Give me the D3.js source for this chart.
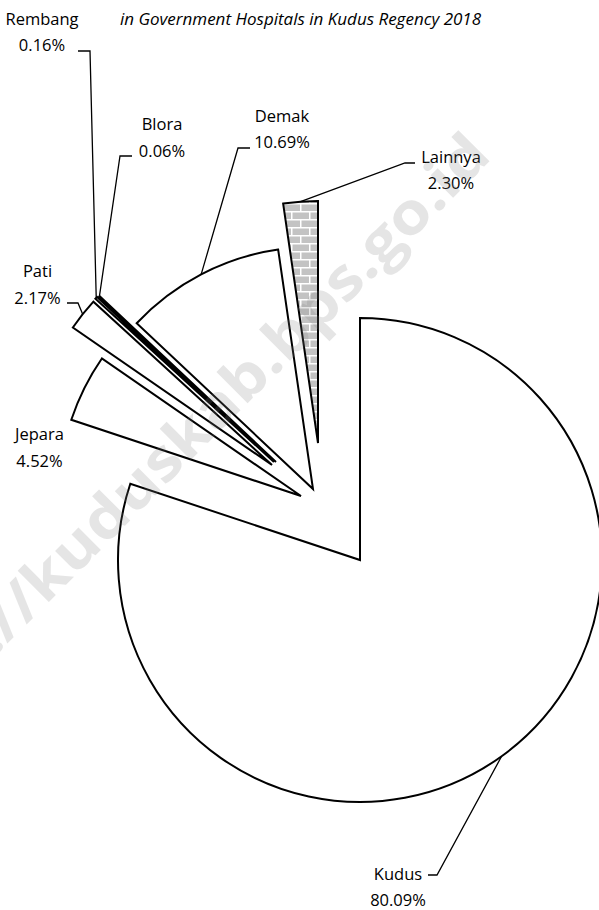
<!DOCTYPE html>
<html>
<head>
<meta charset="utf-8">
<script src="https://cdn.jsdelivr.net/npm/d3@7"></script>
<style>
  body { margin: 0; background: #fff; }
  text { font-family: "Open Sans", sans-serif; fill: #000; }
</style>
</head>
<body>
<div id="chart"></div>
<script>
// ---- data ----
const regions = ['Kudus', 'Jepara', 'Pati', 'Rembang', 'Blora', 'Demak', 'Lainnya'];
const shares = [80.09, 4.52, 2.17, 0.16, 0.06, 10.69, 2.30];
const titleText = 'in Government Hospitals in Kudus Regency 2018';
const watermarkText = 'https://kuduskab.bps.go.id';

// ---- layout ----
var width = 599, height = 910,
    radius = 242,
    cx = 360, cy = 560;

// where each slice's point was dragged to, relative to the pie centre
var explode = {
    Kudus: [0, 0], Jepara: [-59, -64], Pati: [-88, -95],
    Rembang: [-86, -98], Blora: [-84, -98], Demak: [-47, -71], Lainnya: [-42, -117]
};

// label spot (centre x, first baseline) and optional leader [textEnd x, elbow x, y]
var labelPos = {
    Rembang: { x: 42, y: 24.5, leader: [78, 90, 51] },
    Blora:   { x: 162, y: 130, leader: [132, 120, 156] },
    Demak:   { x: 282, y: 121.5, leader: [250, 238, 148] },
    Lainnya: { x: 451, y: 162.5, leader: [415, 405, 163] },
    Pati:    { x: 37.5, y: 277, leader: [67, 78, 303] },
    Jepara:  { x: 39.5, y: 440 },
    Kudus:   { x: 398, y: 879.5, leader: [428, 437, 875] }
};
var lineGap = 26.5;

var data = regions.map(function(r, i) { return { name: r, value: shares[i] }; });

var svg = d3.select('#chart').append('svg')
    .attr('width', width)
    .attr('height', height);

// brick fill for "Lainnya"
var pat = svg.append('defs').append('pattern')
    .attr('id', 'brick')
    .attr('patternUnits', 'userSpaceOnUse')
    .attr('width', 18).attr('height', 16);
pat.append('rect').attr('width', 18).attr('height', 16).attr('fill', '#c3c3c3');
pat.append('path')
    .attr('d', 'M0 0.75H18M0 8.75H18M0.75 0V8.75M9.75 8.75V16')
    .attr('stroke', '#fff')
    .attr('stroke-width', 1.5)
    .attr('fill', 'none');

var pie = d3.pie()
    .sort(null)
    .value(function(d) { return d.value; });

var arc = d3.arc()
    .innerRadius(0)
    .outerRadius(radius);

var arcs = pie(data);

var slices = svg.selectAll('.slice')
    .data(arcs)
    .enter().append('g')
    .attr('class', 'slice')
    .attr('transform', function(d) {
        var o = explode[d.data.name];
        return 'translate(' + (cx + o[0]) + ',' + (cy + o[1]) + ')';
    });

slices.append('path')
    .attr('d', arc)
    .attr('fill', function(d) { return d.data.name === 'Lainnya' ? 'url(#brick)' : '#fff'; })
    .attr('stroke', '#000')
    .attr('stroke-width', 2)
    .attr('stroke-linejoin', 'miter');

// point on the outer rim at the middle of a slice
function rimMid(d) {
    var o = explode[d.data.name],
        a = (d.startAngle + d.endAngle) / 2;
    return [cx + o[0] + radius * Math.sin(a), cy + o[1] - radius * Math.cos(a)];
}

var line = d3.line();

// leader lines
svg.selectAll('.leader')
    .data(arcs.filter(function(d) { return labelPos[d.data.name].leader; }))
    .enter().append('path')
    .attr('class', 'leader')
    .attr('fill', 'none')
    .attr('stroke', '#000')
    .attr('stroke-width', 1.3)
    .attr('d', function(d) {
        var l = labelPos[d.data.name].leader;
        return line([[l[0], l[2]], [l[1], l[2]], rimMid(d)]);
    });

// labels
var labels = svg.selectAll('.label')
    .data(arcs)
    .enter().append('text')
    .attr('class', 'label')
    .attr('text-anchor', 'middle')
    .style('font-size', '16.5px');

labels.append('tspan')
    .attr('x', function(d) { return labelPos[d.data.name].x; })
    .attr('y', function(d) { return labelPos[d.data.name].y; })
    .text(function(d) { return d.data.name; });

labels.append('tspan')
    .attr('x', function(d) { return labelPos[d.data.name].x; })
    .attr('y', function(d) { return labelPos[d.data.name].y + lineGap; })
    .text(function(d) { return d3.format('.2f')(d.data.value) + '%'; });

// title (second line, the first one is cut off at the top)
svg.append('text')
    .attr('x', 300.5)
    .attr('y', 25)
    .attr('text-anchor', 'middle')
    .style('font-size', '17px')
    .style('font-style', 'italic')
    .text(titleText);

// watermark
svg.append('text')
    .attr('transform', 'translate(166,453) rotate(-45)')
    .attr('text-anchor', 'middle')
    .attr('dominant-baseline', 'central')
    .attr('textLength', 880)
    .attr('lengthAdjust', 'spacingAndGlyphs')
    .style('font-size', '58px')
    .style('font-weight', 'bold')
    .style('fill', '#808080')
    .style('opacity', 0.2)
    .text(watermarkText);
</script>
</body>
</html>
